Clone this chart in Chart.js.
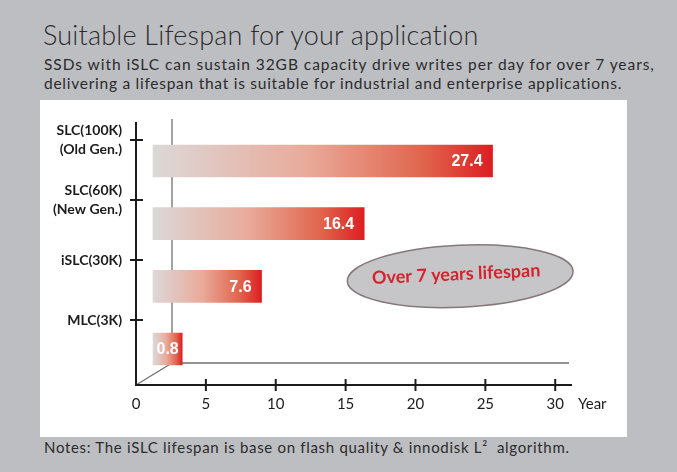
<!DOCTYPE html>
<html>
<head>
<meta charset="utf-8">
<script src="https://cdn.jsdelivr.net/npm/chart.js@4.4.1/dist/chart.umd.min.js"></script>
<style>
  body { margin: 0; width: 677px; height: 472px; background: #bdbec2; position: relative; overflow: hidden; font-family: Lato, "Noto Sans", sans-serif; color: #2b2b2b; }
  .txt { position: absolute; white-space: nowrap; }
  #title { left: 43px; top: 18px; font-size: 27px; font-weight: 300; }
  #sub { left: 44px; top: 55px; font-size: 15.5px; line-height: 19px; }
  #panel { position: absolute; left: 40px; top: 100px; width: 587px; height: 337px; background: #fff; }
  #notes { left: 44px; top: 438px; font-size: 15px; }
</style>
</head>
<body>
<div id="title" class="txt" data-w="436">Suitable Lifespan for your application</div>
<div id="sub" class="txt"><span data-w="611">SSDs with iSLC can sustain 32GB capacity drive writes per day for over 7 years,</span><br><span data-w="578">delivering a lifespan that is suitable for industrial and enterprise applications.</span></div>
<div id="panel"><canvas id="chart" width="587" height="337"></canvas></div>
<div id="notes" class="txt" data-w="526">Notes: The iSLC lifespan is base on flash quality &amp; innodisk L²&nbsp; algorithm.</div>

<script>
// ---------- DATA ----------
const categories = [["SLC(100K)", "(Old Gen.)"], ["SLC(60K)", "(New Gen.)"], "iSLC(30K)", "MLC(3K)"];
const lifespanYears = [27.4, 16.4, 7.6, 0.8];
const yearTicks = [0, 5, 10, 15, 20, 25, 30];
const calloutText = "Over 7 years lifespan";

// stretch the heading texts to the width they have in the picture
document.querySelectorAll("[data-w]").forEach((el) => {
  el.style.display = "inline-block";
  const w = el.getBoundingClientRect().width;
  const n = el.textContent.length;
  el.style.letterSpacing = ((Number(el.dataset.w) - w) / n).toFixed(2) + "px";
});

// ---------- LOOK ----------
const DEPTH_X = 36, DEPTH_Y = -22;   // fake 3d offset of the back walls
const BAR_BASE = -1.7;               // bars start a little in front of the back wall

function barGradient(ctx) {
  const chart = ctx.chart;
  if (!chart.chartArea || ctx.type !== "data") return "#e05a44";
  const sx = chart.scales.x2;
  const x0 = sx.getPixelForValue(BAR_BASE);
  const x1 = sx.getPixelForValue(ctx.raw.x);
  const g = chart.ctx.createLinearGradient(x0, 0, x1, 0);
  g.addColorStop(0, "#dcd8d8");
  g.addColorStop(0.45, "#e9ab9b");
  g.addColorStop(0.8, "#e0644c");
  g.addColorStop(1, "#dc1e22");
  return g;
}

function noPad(s) {
  s.paddingTop = 0; s.paddingBottom = 0; s.paddingLeft = 0; s.paddingRight = 0;
}

// axes lines, 3d back walls, cross ticks, "Year"
const framePlugin = {
  id: "frame",
  beforeDatasetsDraw(chart) {
    const { ctx, chartArea: a } = chart;
    ctx.save();
    ctx.strokeStyle = "#707070";
    ctx.lineWidth = 1.3;
    ctx.beginPath();
    ctx.moveTo(a.left + DEPTH_X, a.top - 3);
    ctx.lineTo(a.left + DEPTH_X, a.bottom + DEPTH_Y);
    ctx.lineTo(a.right - 3, a.bottom + DEPTH_Y);
    ctx.moveTo(a.left, a.bottom);
    ctx.lineTo(a.left + DEPTH_X, a.bottom + DEPTH_Y);
    ctx.stroke();
    ctx.restore();
  },
  afterDatasetsDraw(chart) {
    const { ctx, chartArea: a, scales } = chart;
    ctx.save();
    ctx.strokeStyle = "#1c1c1c";
    ctx.lineWidth = 2;
    ctx.beginPath();
    ctx.moveTo(a.left, a.top);
    ctx.lineTo(a.left, a.bottom);
    ctx.lineTo(a.right, a.bottom);
    scales.x.ticks.forEach((t) => {
      if (t.value === 0) return;
      const px = scales.x.getPixelForValue(t.value);
      ctx.moveTo(px, a.bottom - 6);
      ctx.lineTo(px, a.bottom + 6);
    });
    scales.y.ticks.forEach((t) => {
      const py = scales.y.getPixelForValue(t.value);
      ctx.moveTo(a.left - 6, py);
      ctx.lineTo(a.left + 7, py);
    });
    ctx.stroke();

    ctx.fillStyle = "#1c1c1c";
    ctx.font = "15px Lato";
    ctx.textAlign = "left";
    ctx.textBaseline = "middle";
    ctx.fillText("Year", a.right + 6, a.bottom + 19);

    // value labels inside the bars
    const meta = chart.getDatasetMeta(0);
    ctx.font = "bold 16px 'Liberation Sans'";
    ctx.fillStyle = "#ffffff";
    meta.data.forEach((bar, i) => {
      const txt = String(lifespanYears[i]);
      const w = ctx.measureText(txt).width;
      const pad = Math.min(10, (bar.x - bar.base - w) / 2);
      ctx.textAlign = "right";
      ctx.fillText(txt, bar.x - pad, bar.y + 1);
    });

    // callout ellipse
    const cx = scales.x.getPixelForValue(23.2);
    const cy = scales.y.getPixelForValue(2.27);
    ctx.translate(cx, cy);
    ctx.rotate(-0.045);
    ctx.beginPath();
    ctx.ellipse(0, 0, 113, 31, 0, 0, Math.PI * 2);
    ctx.fillStyle = "#c6c5c8";
    ctx.fill();
    ctx.strokeStyle = "#857878";
    ctx.lineWidth = 1.5;
    ctx.stroke();
    ctx.fillStyle = "#d5232e";
    ctx.font = "bold 18px Lato";
    ctx.textAlign = "center";
    ctx.fillText(calloutText, -4, -2);
    ctx.restore();
  },
};

new Chart(document.getElementById("chart"), {
  type: "bar",
  data: {
    labels: categories.map((c) => [].concat(c).join(" ")),
    datasets: [{
      data: lifespanYears.map((v, i) => ({ x: v, y: i })),
      xAxisID: "x2",
      yAxisID: "y2",
      base: BAR_BASE,
      barThickness: 32,
      borderWidth: 0,
      backgroundColor: barGradient,
    }],
  },
  options: {
    indexAxis: "y",
    responsive: false,
    animation: false,
    devicePixelRatio: 1,
    layout: { padding: { top: 22, right: 55, left: 0, bottom: 0 } },
    plugins: { legend: { display: false }, tooltip: { enabled: false } },
    scales: {
      x: {
        type: "linear", position: "bottom", min: 0, max: 31.2, offset: false,
        afterBuildTicks: (s) => { s.ticks = yearTicks.map((v) => ({ value: v })); },
        afterFit: (s) => { s.height = 52; noPad(s); },
        grid: { display: false, drawTicks: false, offset: false },
        border: { display: false },
        ticks: { padding: 10, color: "#1c1c1c", font: { family: "Lato", size: 15 } },
      },
      y: {
        type: "linear", position: "left", reverse: true, min: -0.3, max: 4.083, offset: false,
        afterBuildTicks: (s) => { s.ticks = categories.map((c, i) => ({ value: i })); },
        afterFit: (s) => { s.width = 96; noPad(s); },
        grid: { display: false, drawTicks: false, offset: false },
        border: { display: false },
        ticks: {
          padding: 14, color: "#1c1c1c",
          font: { family: "Lato", size: 14, weight: "bold", lineHeight: 1.35 },
          callback: (v) => categories[v],
        },
      },
      x2: { type: "linear", display: false, min: -3.16, max: 34.21, offset: false },
      y2: { type: "linear", display: false, reverse: true, min: -0.622, max: 3.575, offset: false, grid: { offset: false } },
    },
  },
  plugins: [framePlugin],
});
</script>
</body>
</html>
